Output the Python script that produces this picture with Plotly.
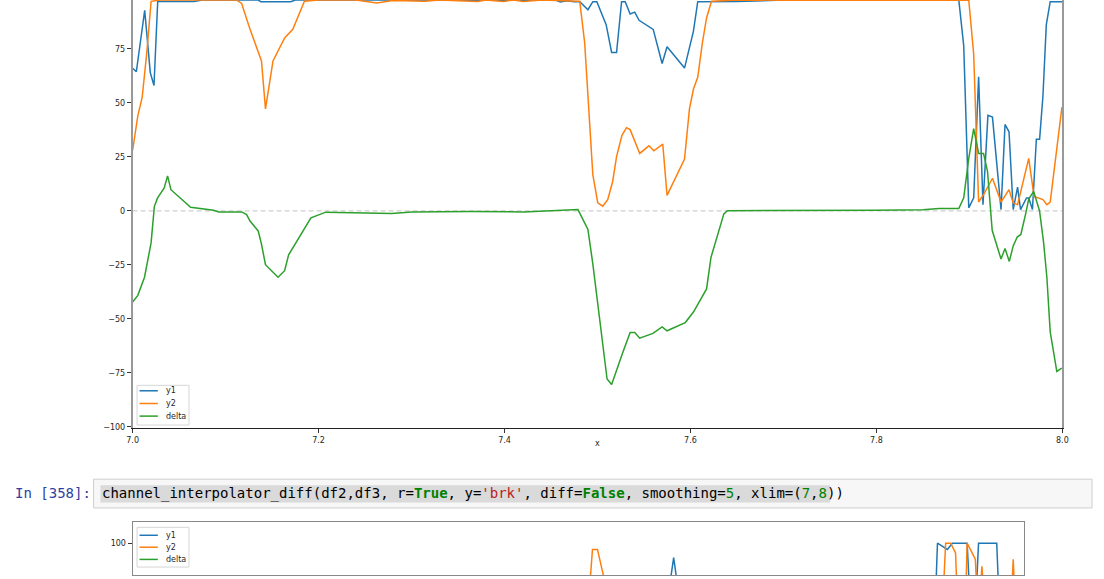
import plotly.graph_objects as go

# ---------------- main chart data ----------------
y1_x = [7.000, 7.004, 7.013, 7.019, 7.023, 7.027, 7.066, 7.075, 7.135, 7.138, 7.170, 7.175,
        7.260, 7.300, 7.350, 7.400, 7.455, 7.460, 7.467, 7.475, 7.481, 7.4897, 7.4950, 7.4993,
        7.5093, 7.5152, 7.5205, 7.5259, 7.5298, 7.5351, 7.5401, 7.5447, 7.5599, 7.5695, 7.5748,
        7.5936, 7.6032, 7.6078, 7.650, 7.700, 7.800, 7.8886, 7.8939, 7.8993, 7.9046, 7.9099,
        7.9146, 7.9199, 7.9248, 7.9340, 7.9383, 7.9426, 7.9471, 7.9518, 7.9550, 7.9614, 7.9638,
        7.9678, 7.9720, 7.9755, 7.9791, 7.9827, 7.9869, 8.000]
y1_v = [66.0, 64.4, 92.8, 64.0, 58.0, 96.9, 96.9, 97.6, 97.6, 96.8, 96.8, 97.6,
        97.6, 97.5, 97.6, 97.5, 97.6, 96.7, 97.3, 96.8, 96.8, 93.1, 96.8, 96.8,
        86.2, 73.3, 73.3, 96.8, 96.8, 91.1, 92.0, 88.2, 84.0, 68.2, 76.0,
        66.1, 83.2, 96.8, 96.9, 97.6, 97.6, 97.6, 76.3, 1.4, 6.0, 62.1,
        2.9, 44.2, 43.4, 0.6, 40.0, 36.6, 0.6, 11.0, 0.6, 6.0, 6.0,
        0.6, 33.2, 33.2, 53.3, 86.2, 96.8, 96.8]

y2_x = [7.000, 7.0056, 7.0103, 7.0152, 7.0199, 7.030, 7.060, 7.090, 7.1117, 7.1173, 7.1263,
        7.1386, 7.1429, 7.1510, 7.1635, 7.1723, 7.1848, 7.200, 7.240, 7.2628, 7.280, 7.3138,
        7.330, 7.371, 7.380, 7.399, 7.410, 7.420, 7.440, 7.4809, 7.4862, 7.4950, 7.5003,
        7.5056, 7.5110, 7.5163, 7.5205, 7.5263, 7.5312, 7.5351, 7.5454, 7.5553, 7.5606,
        7.5702, 7.5748, 7.5936, 7.5989, 7.6032, 7.6078, 7.6128, 7.6173, 7.6226, 7.650,
        7.700, 7.750, 7.800, 7.850, 7.8993, 7.9046, 7.9099, 7.9152, 7.9248, 7.9340, 7.9426,
        7.9471, 7.9518, 7.9638, 7.9695, 7.9791, 7.9833, 7.9869, 7.9995]
y2_v = [28.0, 44.0, 52.6, 73.0, 97.0, 97.6, 97.6, 97.6, 97.6, 96.0, 84.0,
        69.4, 47.2, 69.4, 80.0, 84.0, 97.0, 97.6, 97.6, 96.2, 97.4, 97.0,
        97.6, 96.9, 97.6, 96.9, 97.6, 96.9, 97.6, 97.0, 77.8, 16.7, 3.7,
        2.2, 5.2, 13.6, 25.1, 35.0, 38.5, 37.6, 26.6, 30.1, 27.8,
        30.9, 7.2, 24.0, 47.2, 56.4, 61.8, 77.8, 89.3, 97.0, 97.6,
        97.5, 97.6, 97.5, 97.6, 97.6, 72.5, 4.1, 7.5, 15.1, 4.1, 9.8,
        3.7, 2.9, 24.3, 6.7, 5.2, 2.9, 4.1, 48.0]

delta_x = [7.000, 7.0056, 7.0128, 7.0199, 7.0234, 7.0269, 7.0340, 7.0376, 7.0412, 7.0624,
           7.0872, 7.0926, 7.1173, 7.1226, 7.1263, 7.1351, 7.1386, 7.1429, 7.1564, 7.1635,
           7.1678, 7.1918, 7.2078, 7.2787, 7.300, 7.3638, 7.4205, 7.4790, 7.4897, 7.4950,
           7.5103, 7.5152, 7.5269, 7.5351, 7.5401, 7.5454, 7.5596, 7.5695, 7.5748, 7.5944,
           7.6032, 7.6085, 7.6173, 7.6220, 7.6280, 7.6359, 7.6397, 7.6936, 7.750, 7.800,
           7.850, 7.8673, 7.8886, 7.8939, 7.8993, 7.9046, 7.9099, 7.9152, 7.9195, 7.9245,
           7.9340, 7.9383, 7.9429, 7.9471, 7.9514, 7.9553, 7.9603, 7.9638, 7.9691, 7.9755,
           7.9798, 7.9833, 7.9869, 7.9897, 7.9940, 7.9993]
delta_v = [-42.2, -39.1, -30.7, -14.7, 2.1, 6.0, 10.6, 16.2, 9.8, 1.7,
           0.3, -0.5, -0.5, -1.7, -4.7, -9.3, -15.4, -24.9, -30.7, -27.7,
           -20.3, -3.2, -0.6, -1.2, -0.5, -0.3, -0.5, 0.6, -8.6, -24.6,
           -77.8, -80.4, -65.9, -56.3, -56.3, -58.9, -56.7, -53.7, -55.5, -51.7,
           -46.8, -42.5, -36.1, -21.6, -12.4, -1.4, 0.1, 0.1, 0.4, 0.3,
           0.5, 1.1, 1.1, 6.0, 24.3, 38.1, 26.6, 26.6, 18.2, -9.0,
           -22.3, -17.4, -23.4, -16.2, -12.1, -10.9, -1.7, 5.5, 9.0, -0.1,
           -14.7, -30.7, -56.0, -63.6, -74.3, -72.8]

# ---------------- second (partially visible) chart data ----------------
b_y1_x = [7.600, 7.6071, 7.614, 7.900, 7.9031, 7.9142, 7.9198, 7.9364, 7.943, 7.9492, 7.9696, 7.975]
b_y1_v = [85.0, 96.3, 85.0, 80.0, 100.0, 98.4, 100.0, 100.0, 70.0, 100.0, 100.0, 70.0]
b_y2_x = [7.510, 7.516, 7.5216, 7.5272, 7.535, 7.906, 7.9123, 7.9179, 7.9234, 7.928, 7.933,
          7.9364, 7.9456, 7.949, 7.953, 7.957, 7.985, 7.9881, 7.991]
b_y2_v = [80.0, 98.4, 98.4, 94.1, 85.0, 70.0, 100.0, 100.0, 97.5, 70.0, 70.0,
          100.0, 95.9, 80.0, 94.1, 80.0, 80.0, 95.9, 80.0]

series_names = ["y1", "y2", "delta"]
colors = ["#1f77b4", "#ff7f0e", "#2ca02c"]
y_ticks = [-100, -75, -50, -25, 0, 25, 50, 75]
x_ticks = [7.0, 7.2, 7.4, 7.6, 7.8, 8.0]

W, H = 1104, 579
def PX(p):
    return p / W
def PY(p):
    return 1 - p / H

fig = go.Figure()
for xs, vs, c, n in [(y1_x, y1_v, colors[0], "y1"), (y2_x, y2_v, colors[1], "y2"),
                     (delta_x, delta_v, colors[2], "delta")]:
    fig.add_trace(go.Scatter(x=xs, y=vs, mode="lines", name=n,
                             line=dict(color=c, width=1.5), showlegend=False,
                             xaxis="x", yaxis="y"))
for xs, vs, c, n in [(b_y1_x, b_y1_v, colors[0], "y1"), (b_y2_x, b_y2_v, colors[1], "y2")]:
    fig.add_trace(go.Scatter(x=xs, y=vs, mode="lines", name=n,
                             line=dict(color=c, width=1.5), showlegend=False,
                             xaxis="x2", yaxis="y2"))

tickfont = dict(family="DejaVu Sans", size=8, color="#262626")
fig.update_layout(
    width=W, height=H,
    margin=dict(l=0, r=0, t=0, b=0),
    paper_bgcolor="white", plot_bgcolor="white",
    xaxis=dict(domain=[PX(128), PX(1068)], range=[7, 8], anchor="y",
               tickvals=x_ticks, ticktext=[f"{v:.1f}" for v in x_ticks],
               ticks="outside", ticklen=4, tickwidth=0.8, tickcolor="#333",
               showline=True, linecolor="#222", linewidth=1,
               showgrid=False, zeroline=False, tickfont=tickfont),
    yaxis=dict(domain=[PY(431), 1], range=[-100.5, 97.6], anchor="x",
               tickvals=y_ticks, ticktext=[str(v).replace("-", "\u2212") for v in y_ticks],
               ticks="outside", ticklen=4, tickwidth=0.8, tickcolor="#333",
               showline=True, linecolor="#999999", linewidth=1.6, mirror=True,
               showgrid=False, zeroline=False, tickfont=tickfont),
    xaxis2=dict(domain=[PX(128), PX(1029)], range=[7, 8], anchor="y2",
                showticklabels=False, ticks="",
                showline=True, linecolor="#888888", linewidth=1.2, mirror=True,
                showgrid=False, zeroline=False),
    yaxis2=dict(domain=[0, PY(526)], range=[91.85, 105.34], anchor="x2",
                tickvals=[100], ticktext=["100"],
                ticks="outside", ticklen=4, tickwidth=0.8, tickcolor="#333",
                showline=True, linecolor="#888888", linewidth=1.2, mirror=True,
                showgrid=False, zeroline=False, tickfont=tickfont),
)

shapes = []
# dashed zero line
shapes.append(dict(type="line", xref="x domain", yref="y", x0=0, x1=1, y0=0, y1=0,
                   line=dict(color="#d0d0d0", width=1.3, dash="5px,3px"), layer="below"))

def legend(box, rows):
    x0, y0, x1, y1 = box
    shapes.append(dict(type="rect", xref="paper", yref="paper",
                       x0=PX(x0), x1=PX(x1), y0=PY(y1), y1=PY(y0),
                       fillcolor="rgba(255,255,255,0.9)", line=dict(color="#d6d6d6", width=1)))
    for (ry, name, col) in rows:
        shapes.append(dict(type="line", xref="paper", yref="paper",
                           x0=PX(135), x1=PX(153.5), y0=PY(ry), y1=PY(ry),
                           line=dict(color=col, width=1.5)))
        fig.add_annotation(x=PX(159.5), y=PY(ry), xref="paper", yref="paper", text=name,
                           showarrow=False, xanchor="left", yanchor="middle",
                           font=dict(family="DejaVu Sans", size=8, color="#262626"))

legend((132.5, 388, 185, 428), [(393.5, "y1", colors[0]), (406.3, "y2", colors[1]),
                                (419, "delta", colors[2])])
legend((132.5, 531, 185, 571), [(539, "y1", colors[0]), (551, "y2", colors[1]),
                                (563.3, "delta", colors[2])])

# notebook input cell
shapes.append(dict(type="rect", xref="paper", yref="paper", x0=PX(88.5), x1=PX(1098),
                   y0=PY(511.5), y1=PY(482.5), fillcolor="#f7f7f7",
                   line=dict(color="#cfcfcf", width=1)))
shapes.append(dict(type="rect", xref="paper", yref="paper", x0=PX(95.5), x1=PX(833),
                   y0=PY(506), y1=PY(488.5), fillcolor="#dadada", line=dict(width=0)))
fig.update_layout(shapes=shapes)

fig.add_annotation(x=PX(598), y=PY(453), xref="paper", yref="paper", text="x",
                   showarrow=False, font=dict(family="DejaVu Sans", size=8, color="#262626"))

mono = "DejaVu Sans Mono"
fig.add_annotation(x=PX(7), y=PY(496.5), xref="paper", yref="paper", text="In [358]:",
                   showarrow=False, xanchor="left", yanchor="middle",
                   font=dict(family=mono, size=14, color="#303F9F"))
G = "<span style='color:#008000'><b>{}</b></span>"
N = "<span style='color:#008000'>{}</span>"
code = ("channel_interpolator_diff(df2,df3, r=" + G.format("True") +
        ", y=<span style='color:#BA2121'>'brk'</span>, diff=" + G.format("False") +
        ", smoothing=" + N.format("5") + ", xlim=(" + N.format("7") + "," + N.format("8") + "))")
fig.add_annotation(x=PX(95), y=PY(496.5), xref="paper", yref="paper", text=code,
                   showarrow=False, xanchor="left", yanchor="middle",
                   font=dict(family=mono, size=14, color="#000"))

fig.write_html("out.html", config={"displayModeBar": False},
               post_script="document.body.style.margin='0';")
